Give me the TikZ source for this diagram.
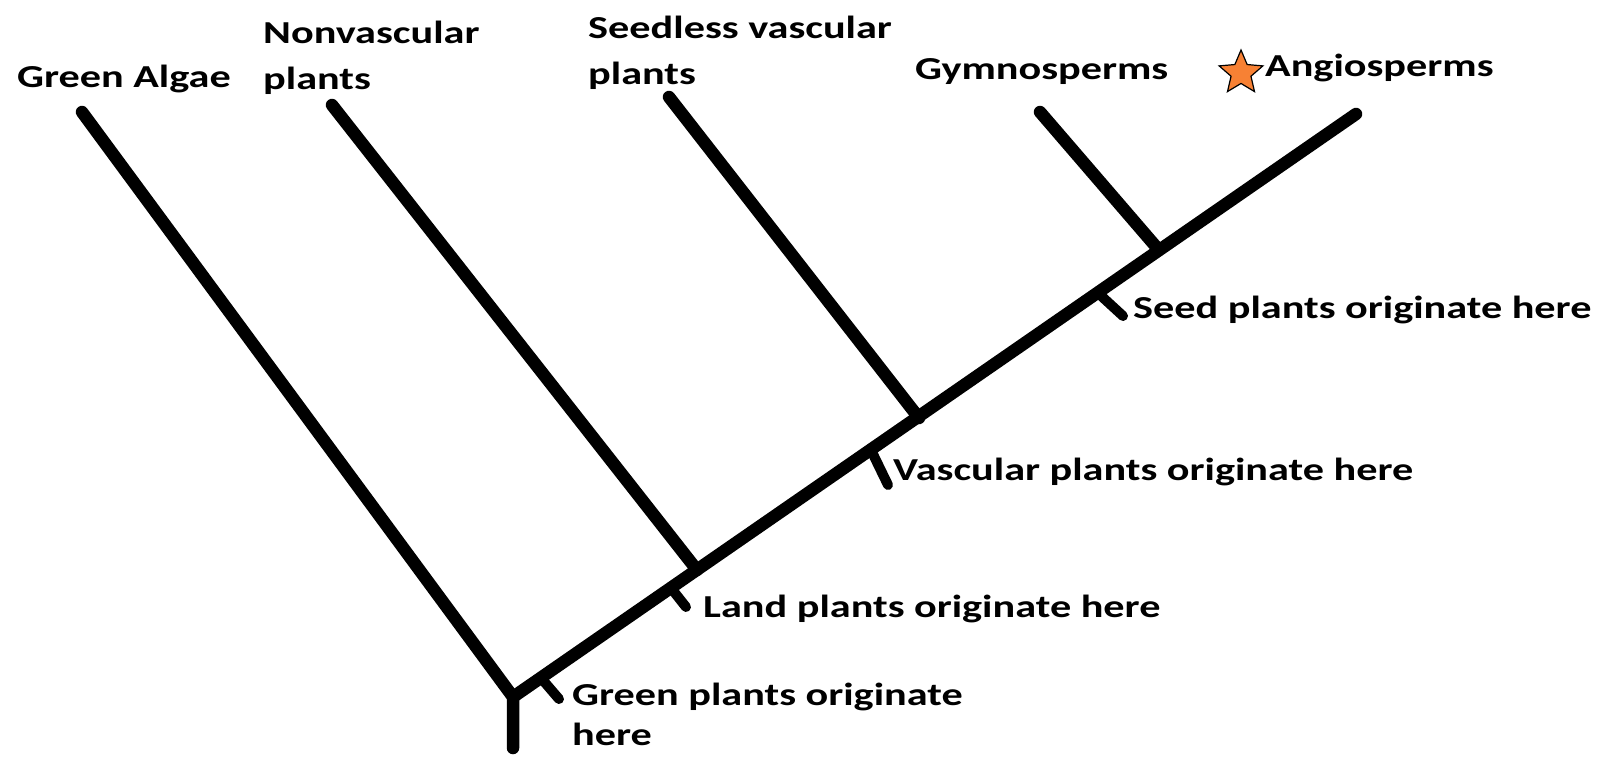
\documentclass[tikz,border=0pt]{standalone}
\usepackage{fontspec}
\setmainfont{Carlito}[FakeStretch=1.32]
\usetikzlibrary{shapes.geometric}

\tikzset{
  branch/.style={line width=12.5pt,line cap=round,line join=round},
  tick/.style={line width=10pt,line cap=round},
  taxon/.style={anchor=base west,inner sep=0pt,align=left,
    font=\fontsize{32}{46}\selectfont\bfseries},
  event/.style={anchor=base west,inner sep=0pt,align=left,
    font=\fontsize{32}{40}\selectfont\bfseries},
}

\begin{document}
\begin{tikzpicture}[x=1pt,y=-1pt]
\useasboundingbox (0,0) rectangle (1601,757);
% tree points
\coordinate (root) at (513,697);
\coordinate (stem) at (513,748);
\coordinate (trunktop) at (1356,114);
\coordinate (algaetop) at (82,112);
\coordinate (jnonvasc) at (697,570);
\coordinate (nonvasctop) at (332,105);
\coordinate (jseedless) at (919,418);
\coordinate (seedlesstop) at (669,97);
\coordinate (jgymno) at (1158,249);
\coordinate (gymnotop) at (1040,112);
% ticks on the trunk
\coordinate (tgreen) at (541,678);
\coordinate (tgreenend) at (559,699);
\coordinate (tland) at (671,588);
\coordinate (tlandend) at (686,607);
\coordinate (tvasc) at (871,450);
\coordinate (tvascend) at (888,485);
\coordinate (tseed) at (1098,293);
\coordinate (tseedend) at (1123,316);

\draw[branch] (stem) -- (root) -- (algaetop);
\draw[branch] (root) -- (trunktop);
\draw[branch] (jnonvasc) -- (nonvasctop);
\draw[branch] (jseedless) -- (seedlesstop);
\draw[branch] (jgymno) -- (gymnotop);
\draw[tick] (tgreen) -- (tgreenend);
\draw[tick] (tland) -- (tlandend);
\draw[tick] (tvasc) -- (tvascend);
\draw[tick] (tseed) -- (tseedend);

% labels
\node[taxon] (algae) at (17,88) {Green Algae};
\node[taxon] (nonvasc) at (263,90) {Nonvascular\\plants};
\node[taxon] (seedless) at (588,85) {Seedless vascular\\plants};
\node[taxon] (gymno) at (915,80) {Gymnosperms};
\node[taxon] (angio) at (1265,77) {Angiosperms};
\node[star,star points=5,star point ratio=2.2,minimum size=46pt,inner sep=0pt,
  draw=black,line width=1.2pt,fill={rgb,255:red,247;green,129;blue,52}]
  (mark) at (1241,73) {};
\node[event] (seedev) at (1133,318) {Seed plants originate here};
\node[event] (vascev) at (893,480) {Vascular plants originate here};
\node[event] (landev) at (703,617) {Land plants originate here};
\node[event] (greenev) at (572,745) {Green plants originate\\here};
\end{tikzpicture}
\end{document}
